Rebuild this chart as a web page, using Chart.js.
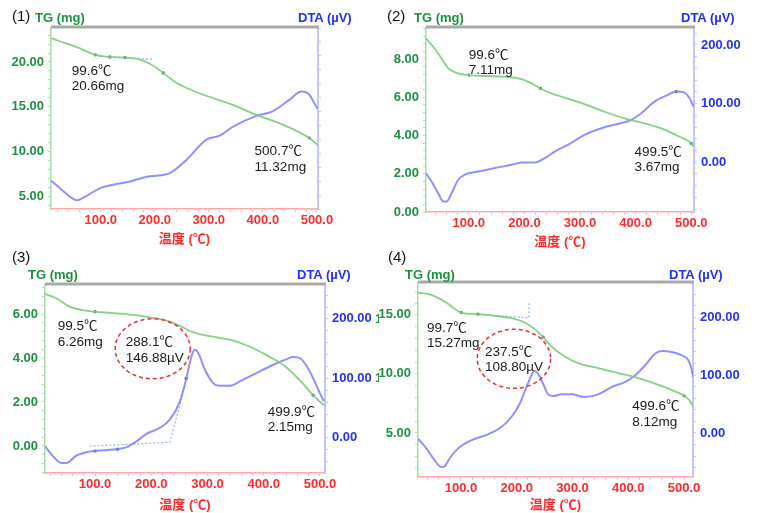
<!DOCTYPE html>
<html><head><meta charset="utf-8">
<script src="https://cdn.jsdelivr.net/npm/chart.js@4.4.0/dist/chart.umd.min.js"></script>
<style>
html,body{margin:0;padding:0;background:#fff;}
#wrap{position:relative;width:757px;height:513px;overflow:hidden;font-family:'Liberation Sans',Arial,'Noto Sans CJK SC',sans-serif;}
canvas{position:absolute;}
.t{position:absolute;white-space:nowrap;line-height:16px;height:16px;}
.num{font-size:15px;color:#111;}
.tg{font-size:13px;font-weight:bold;color:#1d9140;}
.dta{font-size:13px;font-weight:bold;color:#2233ee;}
.cut{overflow:hidden;width:4px;}
</style></head><body>
<div id="wrap">
<canvas id="c1" width="378" height="250" style="left:0;top:0"></canvas>
<canvas id="c2" width="379" height="250" style="left:378px;top:0"></canvas>
<canvas id="c3" width="378" height="263" style="left:0;top:250px"></canvas>
<canvas id="c4" width="379" height="263" style="left:378px;top:250px"></canvas>
<div class="t num" style="left:12px;top:8px">(1)</div>
<div class="t tg" style="left:35px;top:10px">TG (mg)</div>
<div class="t dta" style="left:298px;top:10px">DTA (µV)</div>
<div class="t num" style="left:387px;top:8px">(2)</div>
<div class="t tg" style="left:414px;top:10px">TG (mg)</div>
<div class="t dta" style="left:681px;top:10px">DTA (µV)</div>
<div class="t num" style="left:12px;top:249px">(3)</div>
<div class="t tg" style="left:28px;top:267px">TG (mg)</div>
<div class="t dta" style="left:297px;top:267px">DTA (µV)</div>
<div class="t num" style="left:388px;top:249px">(4)</div>
<div class="t tg" style="left:405px;top:267px">TG (mg)</div>
<div class="t dta" style="left:669px;top:267px">DTA (µV)</div>
<div class="t tg cut" style="left:375px;top:311px">1</div>
<div class="t tg cut" style="left:375px;top:370px">1</div>
</div>
<script>
// ---------- data ----------
// Panel (1)
const tempTG1 = [8.5, 20.3, 55.7, 89.5, 117, 145, 172, 191, 215.6, 240, 283, 344.6, 388, 437, 486, 501];
const tg1     = [22.67, 22.4, 21.67, 20.8, 20.56, 20.49, 20.26, 19.8, 18.78, 17.67, 16.5, 15.2, 14.08, 13.0, 11.5, 10.74];
const tempDTA1 = [8.5, 31, 49, 56, 74, 99, 123, 154, 185, 212, 228, 259, 295, 320, 345, 388, 418, 449, 471, 486, 495, 501];
const dta1     = [-8, -38, -60, -64, -51, -29, -19, -10, 4, 8, 14, 53, 110, 122, 148, 179, 192, 225, 249, 240, 216, 200];
const tempTanTG1 = [117, 197];
const tanTG1     = [20.6, 20.3];
const mkTG1T = [90, 117, 145, 215.6, 486];
const mkTG1  = [20.8, 20.56, 20.49, 18.78, 11.5];
// Panel (2)
const tempTG2 = [23, 36, 51, 63, 81, 100, 129, 165, 195, 213, 229, 248.5, 272, 308, 344, 380, 416, 446, 476, 500, 504];
const tg2     = [9.08, 8.64, 8.03, 7.51, 7.25, 7.16, 7.11, 7.07, 6.95, 6.72, 6.46, 6.2, 5.98, 5.64, 5.24, 4.9, 4.63, 4.37, 3.97, 3.59, 3.41];
const tempDTA2 = [23, 33, 45, 54, 60, 69, 81, 96, 117, 147, 177, 195, 218.6, 236.5, 254.5, 278, 308, 344, 368, 392, 410, 434, 458, 473, 488, 497, 504];
const dta2     = [-19, -33, -53, -67, -67, -53, -30, -20, -16, -10, -4.5, -0.6, -0.6, 6.8, 18.2, 29.5, 46.6, 59.7, 65.3, 72, 83.5, 103.4, 114.8, 120.5, 118.8, 109, 95];
const mkTG2T = [100, 229, 500];
const mkTG2  = [7.16, 6.46, 3.59];
const mkDTA2T = [473];
const mkDTA2  = [120.5];
// Panel (3)
const tempTG3 = [11, 31, 55, 87.5, 108, 138, 168, 197, 227, 251, 271.5, 292, 316, 346, 375.5, 405, 435, 464, 488, 507];
const tg3     = [6.91, 6.72, 6.34, 6.14, 6.09, 6.03, 5.96, 5.85, 5.70, 5.46, 5.2, 5.05, 4.94, 4.79, 4.51, 4.13, 3.68, 2.99, 2.31, 1.85];
const tempDTA3 = [11, 25, 40, 49, 67, 87.5, 108, 132, 156, 174, 191.5, 215, 233, 251, 262.6, 271.5, 277.6, 283.5, 295.5, 310, 322, 340, 357.6, 387, 417, 441, 452.5, 464.4, 482, 497, 507];
const dta3     = [-14, -30.7, -42, -42, -29.6, -23.5, -21.2, -19.6, -15.6, -5.6, 6.7, 16.8, 30.7, 61.5, 100.6, 136.9, 148, 142.5, 114.5, 92, 87.7, 87.7, 95, 109, 123, 132.4, 135.8, 134, 111.7, 81, 61.5];
const tempTan3 = [90, 233, 260];
const tan3     = [-14, -7.3, 87];
const mkTG3T = [100, 488];
const mkTG3  = [6.11, 2.31];
const mkDTA3T = [100, 140, 262];
const mkDTA3  = [-22, -19, 100];
// Panel (4)
const tempTG4 = [23, 46.7, 70.7, 100.6, 130.5, 160.5, 190.4, 214.4, 232.3, 247.3, 262.3, 286, 310, 346, 382, 418, 454, 484, 502, 511, 516];
const tg4     = [16.89, 16.69, 16.13, 15.2, 15.06, 14.92, 14.72, 14.35, 13.79, 13.11, 12.32, 11.48, 10.92, 10.49, 10.07, 9.65, 9.08, 8.52, 8.1, 7.68, 7.25];
const tempDTA4 = [23, 40.7, 52.7, 64.7, 70.7, 79.6, 94.6, 118.6, 148.5, 172.5, 190.4, 205.4, 217.4, 226.3, 232.3, 238.3, 247.3, 256.3, 265.3, 280, 298, 322, 346, 370, 394, 412, 430, 448, 460, 478, 496, 508, 514, 516];
const dta4     = [-9.8, -29.9, -47, -58.6, -57.5, -44, -27, -12.6, -2.3, 10.3, 27.6, 50.6, 79.3, 99.4, 107, 102.3, 85, 66.7, 63.8, 66.7, 66.7, 62, 66.7, 79.3, 88, 99.4, 116.7, 136.8, 141.4, 139.7, 133.9, 125.3, 108, 96.6];
const tempTanTG4 = [130, 222, 222];
const tanTG4     = [15.06, 14.75, 16.0];
const mkTG4T = [100.6, 130.5, 247.3, 500];
const mkTG4  = [15.2, 15.06, 13.11, 8.15];
// Annotation texts
const notes1 = [['99.6℃','20.66mg'], ['500.7℃','11.32mg']];
const notes2 = [['99.6℃','7.11mg'], ['499.5℃','3.67mg']];
const notes3 = [['99.5℃','6.26mg'], ['288.1℃','146.88µV'], ['499.9℃','2.15mg']];
const notes4 = [['99.7℃','15.27mg'], ['237.5℃','108.80µV'], ['499.6℃','8.12mg']];
const xTitle = '温度 (℃)';

// ---------- drawing ----------
const F = "'Liberation Sans', Arial, 'Noto Sans CJK SC', sans-serif";
const pts = (xs, ys) => xs.map((x, i) => ({x: x, y: ys[i]}));
const isMajor = (v, m) => Math.abs(v / m - Math.round(v / m)) < 1e-6;

const decor = {
  id: 'decor',
  afterDraw(chart, args, o) {
    const ctx = chart.ctx, a = chart.chartArea, sx = chart.scales.x, sy = chart.scales.yTG;
    ctx.save();
    ctx.strokeStyle = '#a9a9a9'; ctx.lineWidth = 3;
    ctx.beginPath(); ctx.moveTo(a.left, a.top - 1); ctx.lineTo(a.right + 1, a.top - 1); ctx.stroke();
    ctx.font = '13.5px ' + F; ctx.fillStyle = '#1a1a1a';
    ctx.textBaseline = 'middle'; ctx.textAlign = 'left';
    (o.notes || []).forEach(n => {
      const px = sx.getPixelForValue(n.x), py = sy.getPixelForValue(n.y);
      n.lines.forEach((l, i) => ctx.fillText(l, px, py + i * 15.5));
    });
    if (o.ellipse) {
      const e = o.ellipse;
      ctx.strokeStyle = '#e83030'; ctx.lineWidth = 1.5; ctx.setLineDash([4, 3]);
      ctx.beginPath();
      ctx.ellipse(sx.getPixelForValue(e.x), sy.getPixelForValue(e.y), e.rx, e.ry, 0, 0, Math.PI * 2);
      ctx.stroke();
    }
    ctx.restore();
  }
};

const dotted = (xs, ys, axis) => ({data: pts(xs, ys), yAxisID: axis, borderColor: 'rgba(120,170,230,0.85)', borderWidth: 1.2, borderDash: [2, 2], cubicInterpolationMode: 'default', tension: 0});
const marks = (xs, ys, axis) => ({data: pts(xs, ys), yAxisID: axis, showLine: false, pointRadius: 1.6, pointBackgroundColor: '#3f6688', pointBorderWidth: 0});

function panel(id, c) {
  const datasets = [
    {data: pts(c.tgT, c.tg), yAxisID: 'yTG', borderColor: 'rgba(120,205,120,0.9)', borderWidth: 1.8},
    {data: pts(c.dtaT, c.dta), yAxisID: 'yDTA', borderColor: 'rgba(125,125,255,0.85)', borderWidth: 2}
  ].concat(c.extra || []);
  new Chart(document.getElementById(id), {
    type: 'line',
    data: {datasets: datasets},
    plugins: [decor],
    options: {
      responsive: false, animation: false,
      layout: {padding: {top: c.top, left: 0, right: 0, bottom: 0}},
      elements: {point: {radius: 0}, line: {cubicInterpolationMode: 'monotone'}},
      plugins: {legend: {display: false}, tooltip: {enabled: false}, decor: {notes: c.notes, ellipse: c.ellipse}},
      scales: {
        x: {type: 'linear', position: 'bottom', min: c.xMin, max: c.xMax,
          ticks: {stepSize: 20, autoSkip: false, includeBounds: false, maxRotation: 0, color: '#ff2a2a', padding: 1,
            font: {family: F, size: 13, weight: 'bold'}, callback: v => isMajor(v, 100) ? v.toFixed(1) : ''},
          grid: {drawOnChartArea: false, tickLength: 3, color: '#ffb4b4'},
          border: {color: '#ffaaaa', width: 1.5},
          title: {display: true, text: xTitle, color: '#ff2a2a', font: {family: F, size: 13, weight: 'bold'}, padding: {top: 0, bottom: c.tpad}},
          afterFit: s => { s.height = c.bottomH; }},
        yTG: {type: 'linear', position: 'left', min: c.tgMin, max: c.tgMax,
          ticks: {stepSize: c.tgStep, autoSkip: false, includeBounds: false, color: '#1d9140', padding: 4,
            font: {family: F, size: 13, weight: 'bold'}, callback: v => isMajor(v, c.tgMajor) ? v.toFixed(2) : ''},
          grid: {drawOnChartArea: false, tickLength: 3, color: '#a8dca8'},
          border: {color: '#a8dca8', width: 1.5},
          afterFit: s => { s.width = c.leftW; }},
        yDTA: {type: 'linear', position: 'right', min: c.dMin, max: c.dMax,
          ticks: {stepSize: c.dStep, autoSkip: false, includeBounds: false, color: '#2233ee', padding: 4,
            font: {family: F, size: 13, weight: 'bold'}, callback: v => isMajor(v, c.dMajor) ? v.toFixed(2) : ''},
          grid: {drawOnChartArea: false, tickLength: 3, color: '#c4c4ff'},
          border: {color: '#c4c4ff', width: 2},
          afterFit: s => { s.width = c.rightW; }}
      }
    }
  });
}

panel('c1', {xMin: 8, xMax: 502, tgMin: 3.56, tgMax: 23.8, tgStep: 1, tgMajor: 5, dMin: -89, dMax: 432, dStep: 40, dMajor: 200,
  leftW: 51, rightW: 60, top: 28, bottomH: 41, tpad: 3,
  tgT: tempTG1, tg: tg1, dtaT: tempDTA1, dta: dta1,
  extra: [dotted(tempTanTG1, tanTG1, 'yTG'), marks(mkTG1T, mkTG1, 'yTG')],
  notes: [{x: 46.5, y: 18.97, lines: notes1[0]}, {x: 384.7, y: 9.97, lines: notes1[1]}]});
panel('c2', {xMin: 23, xMax: 505, tgMin: 0, tgMax: 9.62, tgStep: 0.4, tgMajor: 2, dMin: -85, dMax: 229, dStep: 20, dMajor: 100,
  leftW: 48, rightW: 63, top: 28, bottomH: 38, tpad: 0,
  tgT: tempTG2, tg: tg2, dtaT: tempDTA2, dta: dta2,
  extra: [marks(mkTG2T, mkTG2, 'yTG'), marks(mkDTA2T, mkDTA2, 'yDTA')],
  notes: [{x: 100, y: 8.2, lines: notes2[0]}, {x: 398, y: 3.14, lines: notes2[1]}]});
panel('c3', {xMin: 11, xMax: 509, tgMin: -1.23, tgMax: 7.32, tgStep: 0.4, tgMajor: 2, dMin: -59, dMax: 257, dStep: 20, dMajor: 100,
  leftW: 45, rightW: 53, top: 35, bottomH: 40, tpad: 0,
  tgT: tempTG3, tg: tg3, dtaT: tempDTA3, dta: dta3,
  extra: [dotted(tempTan3, tan3, 'yDTA'), marks(mkTG3T, mkTG3, 'yTG'), marks(mkDTA3T, mkDTA3, 'yDTA')],
  notes: [{x: 33.5, y: 5.43, lines: notes3[0]}, {x: 154.5, y: 4.7, lines: notes3[1]}, {x: 407, y: 1.55, lines: notes3[2]}],
  ellipse: {x: 202.5, y: 4.42, rx: 37.5, ry: 30}});
panel('c4', {xMin: 23, xMax: 516, tgMin: 1.27, tgMax: 17.7, tgStep: 1, tgMajor: 5, dMin: -76, dMax: 259, dStep: 20, dMajor: 100,
  leftW: 40, rightW: 64, top: 33, bottomH: 36, tpad: 0,
  tgT: tempTG4, tg: tg4, dtaT: tempDTA4, dta: dta4,
  extra: [dotted(tempTanTG4, tanTG4, 'yTG'), marks(mkTG4T, mkTG4, 'yTG')],
  notes: [{x: 39, y: 13.9, lines: notes4[0]}, {x: 143, y: 11.87, lines: notes4[1]}, {x: 407, y: 7.22, lines: notes4[2]}],
  ellipse: {x: 195, y: 11.28, rx: 36.7, ry: 29.5}});
</script>
</body></html>
